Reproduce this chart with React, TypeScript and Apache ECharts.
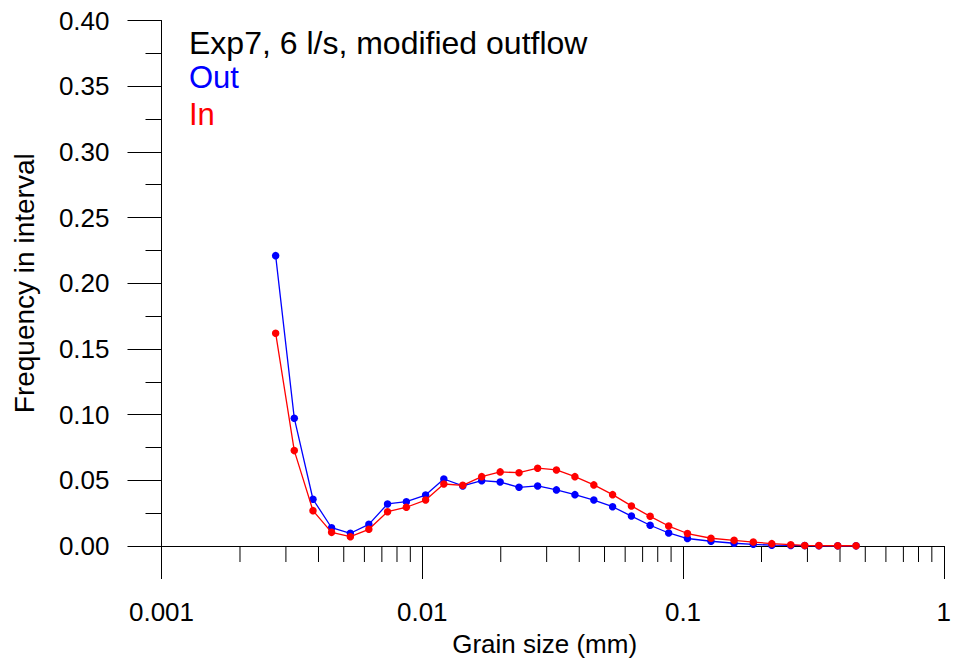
import React, { useEffect, useRef } from "react";
import * as echarts from "echarts";

const GRAIN_SIZE = [
  0.00274, 0.00323, 0.00381, 0.00449, 0.0053, 0.00624, 0.00736, 0.00869, 0.0103, 0.0121,
  0.0143, 0.0169, 0.0199, 0.0235, 0.0277, 0.0327, 0.0385, 0.0455, 0.0537, 0.0634,
  0.0748, 0.0881, 0.104, 0.128, 0.157, 0.186, 0.219, 0.259, 0.293, 0.332, 0.392, 0.461,
];

const OUT_FREQ = [
  0.221, 0.0973, 0.0356, 0.0139, 0.0097, 0.0165, 0.032, 0.0337, 0.0388, 0.051,
  0.0457, 0.0497, 0.0487, 0.0447, 0.0457, 0.0427, 0.0391, 0.035, 0.0299, 0.0228,
  0.0158, 0.0099, 0.0057, 0.0036, 0.0021, 0.0013, 0.0006, 0.0004, 0.0003, 0.0002, 0.0001, 0.0001,
];

const IN_FREQ = [
  0.162, 0.0726, 0.0269, 0.0104, 0.0071, 0.0127, 0.0261, 0.0295, 0.035, 0.0472,
  0.0462, 0.0528, 0.0564, 0.0558, 0.0592, 0.0579, 0.0528, 0.0465, 0.0391, 0.0305,
  0.0226, 0.0152, 0.0095, 0.0059, 0.0043, 0.003, 0.0018, 0.001, 0.0004, 0.0003, 0.0002, 0.0002,
];

const X_MINOR_TICKS = [
  0.002, 0.003, 0.004, 0.005, 0.006, 0.007, 0.008, 0.009,
  0.02, 0.03, 0.04, 0.05, 0.06, 0.07, 0.08, 0.09,
  0.2, 0.3, 0.4, 0.5, 0.6, 0.7, 0.8, 0.9,
];

const X_TICK_LABELS: Record<string, string> = { "-3": "0.001", "-2": "0.01", "-1": "0.1", "0": "1" };

const TITLE = "Exp7, 6 l/s, modified outflow";
const OUT_LABEL = "Out";
const IN_LABEL = "In";
const FONT = "'Liberation Sans', Arial, sans-serif";

export default function App() {
  const ref = useRef<HTMLDivElement>(null);
  useEffect(() => {
    if (!ref.current) return;
    const chart = echarts.init(ref.current, undefined, { renderer: "svg" });
    chart.setOption({
      animation: false,
      backgroundColor: "#ffffff",
      textStyle: { fontFamily: FONT },
      grid: { left: 161.5, width: 790.5, top: 20.5, bottom: 116, containLabel: false },
      xAxis: {
        type: "log",
        logBase: 10,
        min: 0.001,
        max: 1,
        name: "Grain size (mm)",
        nameLocation: "middle",
        nameGap: 85,
        nameTextStyle: { fontSize: 26, color: "#000", fontFamily: FONT, padding: [0, 16, 0, 0] },
        axisLine: { show: true, lineStyle: { color: "#000", width: 1 } },
        axisTick: { show: true, inside: false, length: 33, lineStyle: { color: "#000", width: 1 } },
        minorTick: { show: false },
        splitLine: { show: false },
        axisLabel: {
          fontSize: 26,
          color: "#000",
          fontFamily: FONT,
          margin: 53,
          formatter: (v: number) => {
            const k = String(Math.round(Math.log10(v)));
            return X_TICK_LABELS[k] ?? String(v);
          },
        },
      },
      yAxis: {
        type: "value",
        min: 0,
        max: 0.4,
        interval: 0.05,
        name: "Frequency in interval",
        nameLocation: "middle",
        nameGap: 123,
        nameTextStyle: { fontSize: 28, color: "#000", fontFamily: FONT },
        axisLine: { show: true, lineStyle: { color: "#000", width: 1 } },
        axisTick: { show: true, inside: false, length: 34, lineStyle: { color: "#000", width: 1 } },
        minorTick: { show: true, splitNumber: 2, length: 16, lineStyle: { color: "#000", width: 1 } },
        splitLine: { show: false },
        axisLabel: {
          fontSize: 26,
          color: "#000",
          fontFamily: FONT,
          margin: 52,
          formatter: (v: number) => v.toFixed(2),
        },
      },
      graphic: [
        { type: "text", left: 189, top: 42.8 - 16, style: { text: TITLE, fontSize: 32, fontFamily: FONT, fill: "#000" } },
        { type: "text", left: 189, top: 77.8 - 15.5, style: { text: OUT_LABEL, fontSize: 31, fontFamily: FONT, fill: "#0000ff" } },
        { type: "text", left: 189, top: 114.5 - 15.5, style: { text: IN_LABEL, fontSize: 31, fontFamily: FONT, fill: "#ff0000" } },
      ],
      series: [
        {
          type: "custom",
          name: "minorTicks",
          silent: true,
          clip: false,
          data: X_MINOR_TICKS.map((v) => [v, 0]),
          encode: { x: 0, y: 1 },
          renderItem: (params: any, api: any) => {
            const p = api.coord([api.value(0), 0]);
            return {
              type: "line",
              shape: { x1: p[0], y1: p[1], x2: p[0], y2: p[1] + 16 },
              style: { stroke: "#000", lineWidth: 1 },
            };
          },
          z: 1,
        },
        {
          type: "line",
          name: OUT_LABEL,
          data: GRAIN_SIZE.map((x, i) => [x, OUT_FREQ[i]]),
          symbol: "circle",
          symbolSize: 7.5,
          showAllSymbol: true,
          lineStyle: { color: "#0000ff", width: 1.3 },
          itemStyle: { color: "#0000ff" },
          clip: false,
          z: 2,
        },
        {
          type: "line",
          name: IN_LABEL,
          data: GRAIN_SIZE.map((x, i) => [x, IN_FREQ[i]]),
          symbol: "circle",
          symbolSize: 7.5,
          showAllSymbol: true,
          lineStyle: { color: "#ff0000", width: 1.3 },
          itemStyle: { color: "#ff0000" },
          clip: false,
          z: 3,
        },
      ],
    });
    return () => chart.dispose();
  }, []);
  return (
    <div
      ref={ref}
      style={{ position: "fixed", left: 0, top: 0, width: 954, height: 662, background: "#fff" }}
    />
  );
}
